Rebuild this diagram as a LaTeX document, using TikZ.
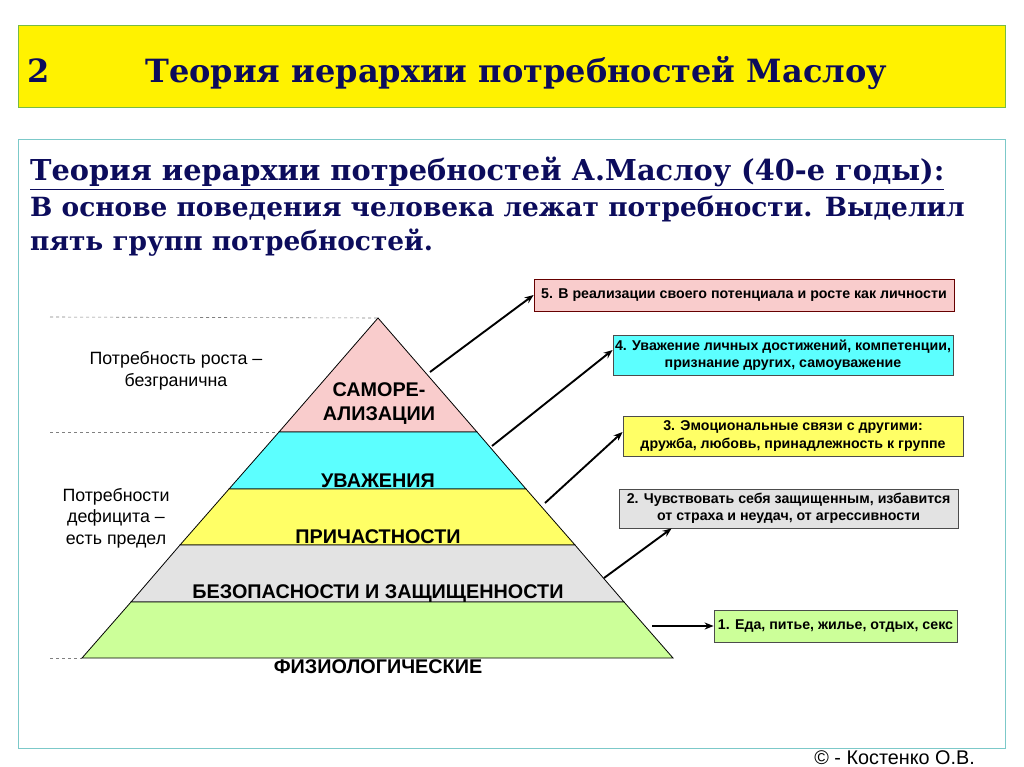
\documentclass[tikz,border=0pt]{standalone}
\usepackage{fontspec}
\setmainfont{Liberation Sans}
\newfontfamily\headfont{DejaVu Serif}
\usetikzlibrary{arrows.meta}
\definecolor{navy}{HTML}{0C0C5C}
\definecolor{titleline}{HTML}{77BB44}
\definecolor{frameline}{HTML}{7CC9C9}
\definecolor{lvlfive}{HTML}{F9CCCC}
\definecolor{lvlfour}{HTML}{5CFFFF}
\definecolor{lvlthree}{HTML}{FFFF66}
\definecolor{lvltwo}{HTML}{E3E3E3}
\definecolor{lvlone}{HTML}{CCFF99}
\begin{document}
\begin{tikzpicture}[>={Stealth[length=9pt,width=7pt]},x=1pt,y=-1pt,
    lvl/.style={draw=black,line width=0.8pt},
    need/.style={draw=black!70,line width=0.8pt,minimum height=32pt,
      inner sep=0pt,align=center,font=\fontsize{14.2}{17.5}\selectfont\bfseries},
    layer/.style={inner sep=0pt,align=center,font=\fontsize{19.8}{24}\selectfont\bfseries},
    side/.style={inner sep=0pt,align=center,font=\fontsize{17.8}{21.5}\selectfont},
    head/.style={anchor=base west,inner sep=0pt,text=navy,font=\headfont\bfseries\fontsize{26.4}{30}\selectfont},
    arr/.style={->,line width=1.9pt},
    guide/.style={dashed,gray,line width=0.6pt}]
    \useasboundingbox (0,0) rectangle (1024,767);
    \fill[white] (0,0) rectangle (1024,767);
    % title bar
    \draw[titleline,fill=yellow] (18,25) rectangle (1005,107);
    \node[head,font=\headfont\bfseries\fontsize{32}{36}\selectfont] (num) at (27,83) {2};
    \node[head,font=\headfont\bfseries\fontsize{32}{36}\selectfont] (title) at (145,83)
        {Теория иерархии потребностей Маслоу};
    \draw[frameline,line width=1pt] (18,140) rectangle (1005,748);
    \node[head,font=\headfont\bfseries\fontsize{28.8}{32}\selectfont] (theory) at (30,181)
        {\underline{Теория иерархии потребностей А.Маслоу (40-е годы):}};
    \node[head] (basis) at (30,217)
        {В основе поведения человека лежат потребности. Выделил};
    \node[head] (groups) at (30,250) {пять групп потребностей.};
    % pyramid
    \coordinate (top) at (378,318);
    \draw[guide] (50,317) -- (top);
    \draw[guide] (50,432) -- (279,432);
    \draw[guide] (50,658) -- (82,658);
    \filldraw[lvl,fill=lvlfive] (top) -- (279,432) -- (477,432) -- cycle;
    \filldraw[lvl,fill=lvlfour] (279,432) -- (229,489) -- (526,489) -- (477,432) -- cycle;
    \filldraw[lvl,fill=lvlthree] (229,489) -- (180,545) -- (575,545) -- (526,489) -- cycle;
    \filldraw[lvl,fill=lvltwo] (180,545) -- (131,602) -- (624,602) -- (575,545) -- cycle;
    \filldraw[lvl,fill=lvlone] (131,602) -- (82,658) -- (673,658) -- (624,602) -- cycle;
    \node[layer] (selfact) at (379,404) {САМОРЕ-\\АЛИЗАЦИИ};
    \node[layer] (esteem) at (378,481) {УВАЖЕНИЯ};
    \node[layer] (belong) at (378,537) {ПРИЧАСТНОСТИ};
    \node[layer] (safety) at (378,594) {БЕЗОПАСНОСТИ И ЗАЩИЩЕННОСТИ};
    \node[layer] (physio) at (378,667) {ФИЗИОЛОГИЧЕСКИЕ};
    \node[side] (growth) at (176,371) {Потребность роста –\\безгранична};
    \node[side] (deficit) at (116,518) {Потребности\\дефицита –\\есть предел};
    % needs
    \node[need,fill=lvlfive,draw=black!60!red,minimum width=420pt] (n5) at (744,295)
        {5. В реализации своего потенциала и росте как личности};
    \node[need,fill=lvlfour,minimum width=340pt,minimum height=40pt] (n4) at (783,355)
        {4. Уважение личных достижений, компетенции,\\признание других, самоуважение};
    \node[need,fill=lvlthree,minimum width=340pt,minimum height=40pt] (n3) at (793,436)
        {3. Эмоциональные связи с другими:\\дружба, любовь, принадлежность к группе};
    \node[need,fill=lvltwo,minimum width=339pt,minimum height=39pt] (n2) at (788.5,508.5)
        {2. Чувствовать себя защищенным, избавится\\от страха и неудач, от агрессивности};
    \node[need,fill=lvlone,minimum width=243pt] (n1) at (835.5,626)
        {1. Еда, питье, жилье, отдых, секс};
    \coordinate (s5) at (430,372);
    \coordinate (s4) at (492,446);
    \coordinate (s3) at (545,503);
    \coordinate (s2) at (604,578);
    \coordinate (s1) at (652,626);
    \draw[arr] (s5) -- (n5.west);
    \draw[arr] (s4) -- ([yshift=5pt]n4.west);
    \draw[arr] (s3) -- ([yshift=4pt]n3.west);
    \draw[arr] (s2) -- ([xshift=53pt]n2.south west);
    \draw[arr] (s1) -- (n1.west);
    \node[anchor=base east,inner sep=0pt,font=\fontsize{19.8}{22}\selectfont] (author) at (975,764)
        {© - Костенко О.В.};
\end{tikzpicture}
\end{document}
